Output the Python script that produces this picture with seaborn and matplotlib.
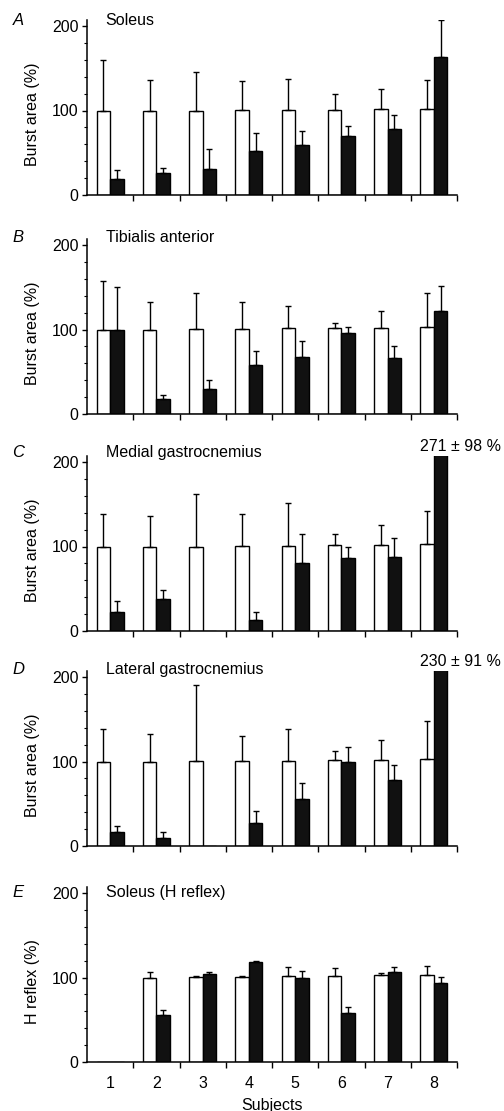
import numpy as np
import pandas as pd
import matplotlib
matplotlib.use("Agg")
import matplotlib.pyplot as plt
import seaborn as sns
from matplotlib.ticker import MultipleLocator
from matplotlib.transforms import blended_transform_factory

# ---------------- data ----------------
subjects = ["1", "2", "3", "4", "5", "6", "7", "8"]
conditions = ["Control", "Test"]

soleus_ctrl = [100, 100, 100, 101, 101, 101, 102, 102]
soleus_ctrl_sd = [60, 36, 45, 34, 36, 19, 24, 34]
soleus_test = [19, 26, 31, 52, 59, 70, 78, 163]
soleus_test_sd = [11, 6, 24, 21, 17, 12, 17, 44]

ta_ctrl = [100, 100, 101, 101, 102, 102, 102, 103]
ta_ctrl_sd = [57, 32, 42, 32, 26, 6, 20, 40]
ta_test = [99, 18, 30, 58, 67, 96, 66, 122]
ta_test_sd = [51, 5, 10, 17, 19, 7, 15, 30]

mg_ctrl = [100, 100, 100, 101, 101, 102, 102, 103]
mg_ctrl_sd = [38, 36, 62, 37, 51, 13, 24, 39]
mg_test = [23, 38, np.nan, 13, 80, 86, 88, 271]
mg_test_sd = [13, 11, np.nan, 10, 35, 14, 22, 98]

lg_ctrl = [100, 100, 101, 101, 101, 102, 102, 103]
lg_ctrl_sd = [38, 33, 90, 29, 37, 10, 23, 45]
lg_test = [16, 10, np.nan, 27, 56, 100, 78, 230]
lg_test_sd = [8, 6, np.nan, 15, 19, 17, 18, 91]

hr_ctrl = [np.nan, 100, 101, 101, 102, 102, 103, 103]
hr_ctrl_sd = [np.nan, 7, 1, 1, 10, 9, 2, 11]
hr_test = [np.nan, 56, 104, 118, 99, 58, 107, 93]
hr_test_sd = [np.nan, 6, 2, 1, 9, 7, 5, 8]

panel_letters = ["A", "B", "C", "D", "E"]
panel_titles = ["Soleus", "Tibialis anterior", "Medial gastrocnemius",
                "Lateral gastrocnemius", "Soleus (H reflex)"]
y_labels = ["Burst area (%)"] * 4 + ["H reflex (%)"]
off_scale_notes = [None, None, "271 ± 98 %", "230 ± 91 %", None]

panels = [
    (soleus_ctrl, soleus_ctrl_sd, soleus_test, soleus_test_sd),
    (ta_ctrl, ta_ctrl_sd, ta_test, ta_test_sd),
    (mg_ctrl, mg_ctrl_sd, mg_test, mg_test_sd),
    (lg_ctrl, lg_ctrl_sd, lg_test, lg_test_sd),
    (hr_ctrl, hr_ctrl_sd, hr_test, hr_test_sd),
]

# ---------------- style ----------------
sns.set_style("ticks")
plt.rcParams["font.family"] = ["Liberation Sans", "DejaVu Sans"]
plt.rcParams["font.size"] = 11.5
plt.rcParams["axes.linewidth"] = 1.1
for key in ["text.color", "axes.labelcolor", "xtick.color", "ytick.color",
            "axes.edgecolor"]:
    plt.rcParams[key] = "black"

W, H = 504, 1111
fig = plt.figure(figsize=(W / 100, H / 100), dpi=100)

px_per_unit = 0.845
ytop = 207
ax_left_px = 87
ax_width_px = 370
ax_bottoms_px = [916, 697, 480, 265, 49]
title_y = [206, 209, 211, 209, 201]

for i, (ctrl, ctrl_sd, test, test_sd) in enumerate(panels):
    ax = fig.add_axes([ax_left_px / W, ax_bottoms_px[i] / H,
                       ax_width_px / W, ytop * px_per_unit / H])
    df = pd.DataFrame({
        "subject": subjects * 2,
        "condition": [conditions[0]] * 8 + [conditions[1]] * 8,
        "value": list(ctrl) + list(test),
    })
    df["plotted"] = df["value"].fillna(0)
    sns.barplot(data=df, x="subject", y="plotted", hue="condition",
                order=subjects, hue_order=conditions,
                palette={"Control": "white", "Test": "#111111"},
                saturation=1, width=0.58, gap=0, errorbar=None,
                edgecolor="black", linewidth=1.0, legend=False, ax=ax)

    sds = [ctrl_sd, test_sd]
    for cont, sd_list in zip(ax.containers, sds):
        for bar, sd in zip(cont.patches, sd_list):
            if np.isnan(sd):
                continue
            xc = bar.get_x() + bar.get_width() / 2
            h = bar.get_height()
            ax.errorbar([xc], [h], yerr=[[0], [sd]], fmt="none",
                        ecolor="black", elinewidth=1.0, capsize=2.2,
                        capthick=1.0, zorder=3)

    ax.set_xlim(-0.5, 7.5)
    ax.set_ylim(0, ytop)
    sns.despine(ax=ax)
    ax.set_yticks([0, 100, 200])
    ax.yaxis.set_minor_locator(MultipleLocator(20))
    ax.tick_params(axis="y", which="major", length=3.5, width=1.0, pad=2.5,
                   direction="out")
    ax.tick_params(axis="y", which="minor", length=2, width=0.8,
                   direction="out")
    ax.set_xticks(range(8))
    ax.set_xticks(np.arange(0.5, 8, 1), minor=True)
    ax.tick_params(axis="x", which="major", length=0, pad=10)
    ax.tick_params(axis="x", which="minor", length=4, width=1.0,
                   direction="out")
    if i == 4:
        ax.set_xticklabels(subjects)
        ax.set_xlabel("Subjects", labelpad=5)
    else:
        ax.set_xticklabels([])
        ax.set_xlabel("")
    ax.set_ylabel(y_labels[i])
    ax.yaxis.set_label_coords(-0.127, 0.46)

    ax.text(0.05, title_y[i], panel_titles[i],
            transform=blended_transform_factory(ax.transAxes, ax.transData),
            ha="left", va="center", fontsize=11.5, clip_on=False)
    ax.text(18 / W, title_y[i], panel_letters[i],
            transform=blended_transform_factory(fig.transFigure, ax.transData),
            ha="center", va="center", fontsize=12, style="italic",
            clip_on=False)
    if off_scale_notes[i]:
        ax.text(7.58, 218, off_scale_notes[i], ha="center", va="center",
                fontsize=11.5, clip_on=False)

fig.savefig("out.png", dpi=100)
